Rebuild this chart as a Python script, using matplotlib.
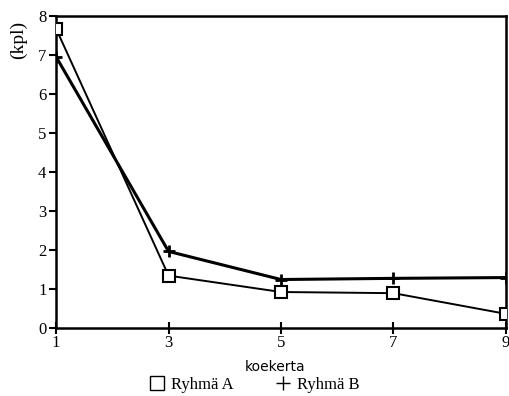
import matplotlib
matplotlib.use('Agg')
import matplotlib.pyplot as plt
from matplotlib.lines import Line2D

# data
kerta = [1, 3, 5, 7, 9]
ryhma_a = [7.67, 1.34, 0.92, 0.89, 0.36]
ryhma_b = [6.95, 1.96, 1.24, 1.27, 1.29]

plt.rcParams['font.family'] = ['Liberation Serif', 'DejaVu Serif']

fig = plt.figure(figsize=(5.1, 3.96), dpi=100)
ax = fig.add_axes([0.110, 0.172, 0.882, 0.788])

ax.plot(kerta, ryhma_a, color='k', lw=1.4, marker='s', markersize=8,
        markerfacecolor='white', markeredgecolor='k', markeredgewidth=1.5, zorder=3)
ax.plot(kerta, ryhma_b, color='k', lw=2.2, marker='+', markersize=9,
        markeredgewidth=2, zorder=2)

ax.set_xlim(1, 9)
ax.set_ylim(0, 8)
ax.set_xticks(kerta)
ax.set_yticks(range(0, 9))
ax.tick_params(axis='y', direction='out', length=5, width=1.5, labelsize=12, pad=2)
ax.tick_params(axis='x', direction='inout', length=8, width=1.5, labelsize=12, pad=1)
for s in ax.spines.values():
    s.set_linewidth(1.8)

fig.text(0.036, 0.90, '(kpl)', rotation=90, fontsize=14, ha='center', va='center')
fig.text(0.54, 0.072, 'koekerta', fontsize=10, family='DejaVu Sans', ha='center', va='center')

handles = [Line2D([], [], ls='none', marker='s', markersize=10, markerfacecolor='white',
                  markeredgecolor='k', markeredgewidth=1),
           Line2D([], [], ls='none', marker='+', markersize=10, markeredgecolor='k',
                  markeredgewidth=1)]
fig.legend(handles, ['Ryhmä A', 'Ryhmä B'], loc='center', bbox_to_anchor=(0.50, 0.028),
           ncol=2, frameon=False, fontsize=12, handlelength=0.8, handletextpad=0.4,
           columnspacing=2.6, borderpad=0)

fig.savefig('out.png', dpi=100)
